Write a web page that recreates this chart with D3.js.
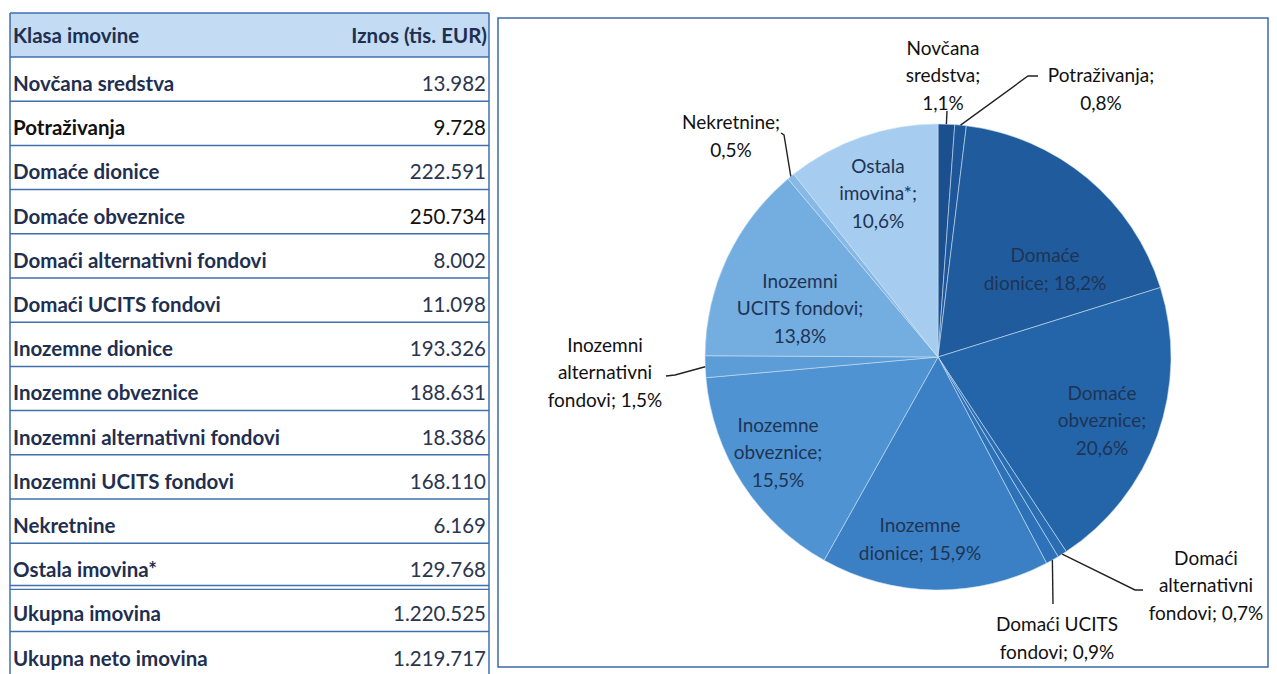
<!DOCTYPE html>
<html>
<head>
<meta charset="utf-8">
<script src="https://cdn.jsdelivr.net/npm/d3@7"></script>
<style>
  body { margin: 0; background: #fff; }
  svg { display: block; font-family: Lato, "Open Sans", sans-serif; }
</style>
</head>
<body>
<div id="content"></div>
<script>
var categories = ["Novčana sredstva", "Potraživanja", "Domaće dionice", "Domaće obveznice",
  "Domaći alternativni fondovi", "Domaći UCITS fondovi", "Inozemne dionice", "Inozemne obveznice",
  "Inozemni alternativni fondovi", "Inozemni UCITS fondovi", "Nekretnine", "Ostala imovina*"];
var amounts = [13982, 9728, 222591, 250734, 8002, 11098, 193326, 188631, 18386, 168110, 6169, 129768];
var totalLabels = ["Ukupna imovina", "Ukupna neto imovina"];
var totalAmounts = [1220525, 1219717];
var headers = ["Klasa imovine", "Iznos (tis. EUR)"];

// how each pie label is broken into lines ({p} = percent)
var pieLabelLines = [
  ["Novčana", "sredstva;", "{p}"],
  ["Potraživanja;", "{p}"],
  ["Domaće", "dionice; {p}"],
  ["Domaće", "obveznice;", "{p}"],
  ["Domaći", "alternativni", "fondovi; {p}"],
  ["Domaći UCITS", "fondovi; {p}"],
  ["Inozemne", "dionice; {p}"],
  ["Inozemne", "obveznice;", "{p}"],
  ["Inozemni", "alternativni", "fondovi; {p}"],
  ["Inozemni", "UCITS fondovi;", "{p}"],
  ["Nekretnine;", "{p}"],
  ["Ostala", "imovina*;", "{p}"]
];

var colors = ["#1b4f8e", "#1e5799", "#205c9d", "#2465a9", "#2a6db3", "#2d72b8",
  "#3b80c4", "#4f93d2", "#5c9dd8", "#74addf", "#86b9e6", "#a6cdef"];

var width = 1277, height = 674;
var svg = d3.select("#content").append("svg")
    .attr("width", width)
    .attr("height", height);

var fmt = function(v) { return d3.format(",")(v).replace(/,/g, "."); };

// ---------- table ----------
var tab = {left: 10, right: 489, top: 13, headH: 44, rowH: 44.2};
var rows = categories.map(function(c, i) { return {label: c, value: amounts[i]}; })
  .concat(totalLabels.map(function(c, i) { return {label: c, value: totalAmounts[i]}; }));

var table = svg.append("g");
table.append("rect")
    .attr("x", tab.left).attr("y", tab.top)
    .attr("width", tab.right - tab.left).attr("height", tab.headH)
    .attr("fill", "#c3dcf3");

table.append("text")
    .attr("x", tab.left + 3).attr("y", tab.top + 30)
    .attr("font-size", 20.5).attr("font-weight", "bold").attr("fill", "#1f2f50")
    .text(headers[0]);
table.append("text")
    .attr("x", tab.right - 2).attr("y", tab.top + 30)
    .attr("text-anchor", "end")
    .attr("font-size", 20.5).attr("font-weight", "bold").attr("fill", "#1f2f50")
    .text(headers[1]);

var y0 = tab.top + tab.headH;
var rowY = d3.scaleLinear().domain([0, 1]).range([y0, y0 + tab.rowH]);

table.selectAll("text.lab")
  .data(rows)
  .enter().append("text")
    .attr("class", "lab")
    .attr("x", tab.left + 3)
    .attr("y", function(d, i) { return rowY(i) + 34; })
    .attr("font-size", 20.5).attr("font-weight", "bold")
    .attr("fill", function(d, i) { return i == 1 ? "#111" : "#1f2f50"; })
    .text(function(d) { return d.label; });

table.selectAll("text.val")
  .data(rows)
  .enter().append("text")
    .attr("class", "val")
    .attr("x", tab.right - 3)
    .attr("y", function(d, i) { return rowY(i) + 34; })
    .attr("text-anchor", "end")
    .attr("font-size", 20.5)
    .attr("fill", function(d, i) { return i == 1 || i == 3 ? "#111" : "#2a3550"; })
    .text(function(d) { return fmt(d.value); });

// row separators
var lineIdx = d3.range(0, rows.length);
table.selectAll("line.sep")
  .data(lineIdx)
  .enter().append("line")
    .attr("x1", tab.left).attr("x2", tab.right)
    .attr("y1", function(i) { return rowY(i) + (i == categories.length ? -2 : 0); })
    .attr("y2", function(i) { return rowY(i) + (i == categories.length ? -2 : 0); })
    .attr("stroke", "#3f6fae").attr("stroke-width", 1.5);
table.append("line")
    .attr("x1", tab.left).attr("x2", tab.right)
    .attr("y1", rowY(categories.length) + 2).attr("y2", rowY(categories.length) + 2)
    .attr("stroke", "#3f6fae").attr("stroke-width", 1.2);
table.append("line")
    .attr("x1", tab.left).attr("x2", tab.right)
    .attr("y1", tab.top).attr("y2", tab.top)
    .attr("stroke", "#3f6fae").attr("stroke-width", 1.5);
[tab.left, tab.right].forEach(function(x) {
  table.append("line")
      .attr("x1", x).attr("x2", x)
      .attr("y1", tab.top).attr("y2", height)
      .attr("stroke", "#3f6fae").attr("stroke-width", 1.5);
});

// ---------- pie ----------
svg.append("rect")
    .attr("x", 498).attr("y", 18)
    .attr("width", 770).attr("height", 649)
    .attr("fill", "none").attr("stroke", "#3c6aab").attr("stroke-width", 1.5);

var cx = 938, cy = 357, radius = 233;
var netTotal = totalAmounts[1];
var pct = function(v) { return d3.format(".1f")(v / netTotal * 100).replace(".", ",") + "%"; };

var pie = d3.pie().sort(null).value(function(d) { return d; });
var arcs = pie(amounts);
var arc = d3.arc().innerRadius(0).outerRadius(radius);

var g = svg.append("g").attr("transform", "translate(" + cx + "," + cy + ")");

g.selectAll("path")
  .data(arcs)
  .enter().append("path")
    .attr("d", arc)
    .attr("fill", function(d, i) { return colors[i]; })
    .attr("stroke", "#cfe2f5").attr("stroke-width", 0.8).attr("stroke-opacity", 0.7);

// label placement (block centre relative to pie centre), elbow for leader lines
var labelLayout = [
  {x: 5, y: -282, out: true, elbow: [9, -246]},
  {x: 163, y: -268, out: true, elbow: [90, -281], hook: [100, -281]},
  {x: 107, y: -88},
  {x: 164, y: 63},
  {x: 268, y: 228, out: true, elbow: [197, 233], hook: [205, 233]},
  {x: 119, y: 281, out: true, elbow: [115, 247]},
  {x: -18, y: 182},
  {x: -160, y: 95},
  {x: -333, y: 15, out: true, elbow: [-263, 18], hook: [-272, 19]},
  {x: -138, y: -49},
  {x: -207, y: -221, out: true, elbow: [-154, -222], hook: [-157, -224]},
  {x: -60, y: -164}
];

var lineH = 27.5;

// leader lines
arcs.forEach(function(a, i) {
  var L = labelLayout[i];
  if (!L.out) return;
  var mid = (a.startAngle + a.endAngle) / 2;
  var p0 = [Math.sin(mid) * radius, -Math.cos(mid) * radius];
  var pts = [p0, L.elbow];
  if (L.hook) pts.push(L.hook);
  g.append("path")
      .attr("d", d3.line()(pts))
      .attr("fill", "none")
      .attr("stroke", "#222").attr("stroke-width", 1.4);
});

arcs.forEach(function(a, i) {
  var L = labelLayout[i];
  var lines = pieLabelLines[i].map(function(s) { return s.replace("{p}", pct(amounts[i])); });
  var t = g.append("text")
      .attr("text-anchor", "middle")
      .attr("font-size", 19)
      .attr("fill", L.out ? "#111" : "#1e3454");
  lines.forEach(function(s, k) {
    t.append("tspan")
        .attr("x", L.x)
        .attr("y", L.y + (k - (lines.length - 1) / 2) * lineH + 7)
        .text(s);
  });
});
</script>
</body>
</html>
